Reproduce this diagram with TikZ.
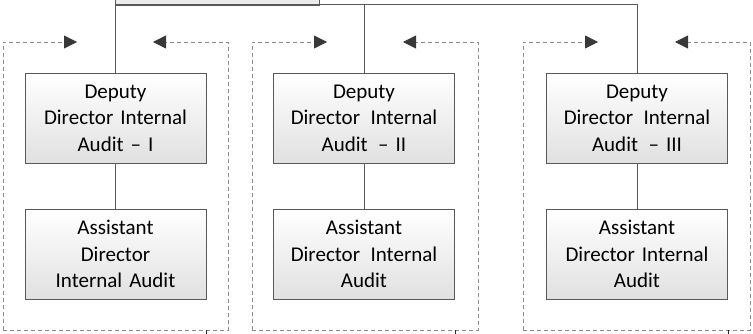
\documentclass[tikz,border=0pt]{standalone}
\usepackage{fontspec}
\setmainfont{Carlito}
\usetikzlibrary{arrows.meta}
\tikzset{
  post/.style={draw=black!65, line width=0.9pt, top color=white, bottom color=black!12,
    minimum width=181pt, minimum height=90pt, text width=175pt, align=center,
    inner sep=0pt, font=\fontsize{21}{26.5}\selectfont},
  wire/.style={draw=black!65, line width=0.9pt},
  back/.style={draw=black!45, line width=0.8pt, dash pattern=on 4pt off 3pt,
    -{Triangle[length=13pt,width=13pt,color=black!78,fill=black!78]}}
}
\begin{document}
\begin{tikzpicture}[x=1pt,y=-1pt]
  \useasboundingbox (0,0) rectangle (753,334);
  \begin{scope}
    \clip (0,0) rectangle (753,334);
    \node[post, minimum width=204pt, bottom color=black!8] (head) at (217,-40) {};
  \end{scope}

  \node[post] (dep1) at (115.5,118) {Deputy\\Director Internal\\Audit -- I};
  \node[post] (dep2) at (364,118) {Deputy\\Director\, Internal\\Audit\, -- II};
  \node[post] (dep3) at (637,118) {Deputy\\Director\, Internal\\Audit\, -- III};
  \node[post] (asst1) at (115.5,254) {Assistant\\Director\\Internal Audit};
  \node[post] (asst2) at (364,254) {Assistant\\Director\, Internal\\Audit};
  \node[post] (asst3) at (637,254) {Assistant\\Director Internal\\Audit};

  \coordinate (bus1) at (115.5,4);
  \coordinate (bus2) at (364,4);
  \coordinate (bus3) at (637,4);
  \draw[wire] (dep1.north) -- (bus1) -- (bus3) -- (dep3.north);
  \draw[wire] (dep2.north) -- (bus2);
  \draw[wire] (dep1.south) -- (asst1.north);
  \draw[wire] (dep2.south) -- (asst2.north);
  \draw[wire] (dep3.south) -- (asst3.north);

  % dashed loops round each unit
  \coordinate (p1sw) at (3,330);   \coordinate (p1se) at (228,330);
  \coordinate (p1in) at (77,42);   \coordinate (p1out) at (153,42);
  \coordinate (p2sw) at (252,330); \coordinate (p2se) at (478,330);
  \coordinate (p2in) at (327,42);  \coordinate (p2out) at (403,42);
  \coordinate (p3sw) at (523,330); \coordinate (p3se) at (750,330);
  \coordinate (p3in) at (598,42);  \coordinate (p3out) at (675,42);
  \draw[back] (p1sw) |- (p1in);
  \draw[back] (p1sw) -- (p1se) |- (p1out);
  \draw[back] (p2sw) |- (p2in);
  \draw[back] (p2sw) -- (p2se) |- (p2out);
  \draw[back] (p3sw) |- (p3in);
  \draw[back] (p3sw) -- (p3se) |- (p3out);

  \coordinate (p1tick) at (206,330);
  \coordinate (p2tick) at (455,330);
  \coordinate (p3tick) at (728,330);
  \draw[wire, black!85] (p1tick) -- ++(0,5);
  \draw[wire, black!85] (p2tick) -- ++(0,5);
  \draw[wire, black!85] (p3tick) -- ++(0,5);
\end{tikzpicture}
\end{document}
